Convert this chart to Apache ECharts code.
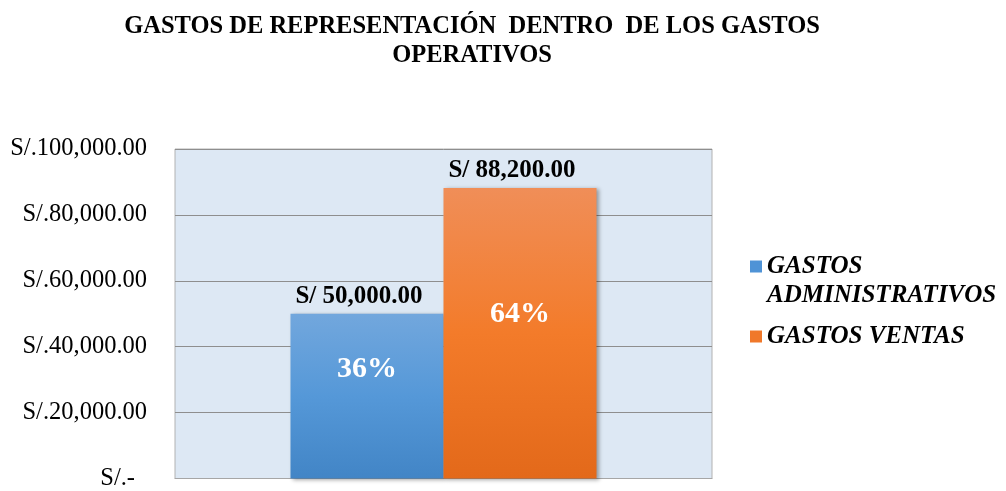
<!DOCTYPE html>
<html>
<head>
<meta charset="utf-8">
<script src="https://cdn.jsdelivr.net/npm/echarts@6/dist/echarts.min.js"></script>
<style>
  html, body { margin: 0; padding: 0; background: #fff; }
  #chart { width: 1006px; height: 491px; }
</style>
</head>
<body>
<div id="chart"></div>
<script>
var titulo = "GASTOS DE REPRESENTACIÓN  DENTRO  DE LOS GASTOS\nOPERATIVOS";
var categorias = [""];
var nombres = ["GASTOS ADMINISTRATIVOS", "GASTOS VENTAS"];
var montos = [50000, 88200];
var yTicks = [0, 20000, 40000, 60000, 80000, 100000];

var fuente = "Liberation Serif";
var total = montos[0] + montos[1];

// gradientes de cada barra (arriba -> abajo)
var colores = [
  new echarts.graphic.LinearGradient(0, 0, 0, 1, [
    { offset: 0, color: "#72a7dd" },
    { offset: 0.5, color: "#5598d8" },
    { offset: 1, color: "#4285c6" },
  ]),
  new echarts.graphic.LinearGradient(0, 0, 0, 1, [
    { offset: 0, color: "#f08e58" },
    { offset: 0.5, color: "#f37b2a" },
    { offset: 1, color: "#e3691a" },
  ]),
];
var legendColors = ["#4f93d6", "#f0782a"];
var pctOffsets = [[0, -27], [0, -19]];

function soles(v) {
  return v.toLocaleString("en-US", { minimumFractionDigits: 2, maximumFractionDigits: 2 });
}

var series = [];
montos.forEach(function (m, i) {
  // barra principal con el porcentaje adentro
  series.push({
    name: nombres[i],
    type: "bar",
    xAxisIndex: 0,
    barWidth: 153,
    barGap: "0%",
    data: [m],
    itemStyle: {
      color: colores[i],
      shadowBlur: 4,
      shadowOffsetX: 2,
      shadowOffsetY: 1,
      shadowColor: "rgba(0,0,0,0.35)",
    },
    label: {
      show: true,
      position: "inside",
      offset: pctOffsets[i],
      color: "#fff",
      fontFamily: fuente,
      fontWeight: "bold",
      fontSize: 30,
      formatter: function (p) {
        return Math.round((p.value / total) * 100) + "%";
      },
    },
    silent: true,
  });
});
montos.forEach(function (m, i) {
  // capa transparente para la etiqueta del monto
  series.push({
    name: "_" + nombres[i],
    type: "bar",
    xAxisIndex: 1,
    barWidth: 153,
    barGap: "0%",
    data: [m],
    itemStyle: { color: "transparent" },
    label: {
      show: true,
      position: "top",
      distance: 5,
      offset: [-8, 0],
      color: "#000",
      fontFamily: fuente,
      fontWeight: "bold",
      fontSize: 25,
      formatter: function (p) {
        return "S/ " + soles(p.value);
      },
    },
    silent: true,
  });
});

var legendText = {
  fontFamily: fuente,
  fontWeight: "bold",
  fontStyle: "italic",
  fontSize: 25,
  lineHeight: 29,
  color: "#000",
};

var option = {
  animation: false,
  title: {
    text: titulo,
    left: 467,
    top: 7,
    textAlign: "center",
    textStyle: {
      fontFamily: fuente,
      fontWeight: "bold",
      fontSize: 24.5,
      lineHeight: 29,
      color: "#000",
    },
  },
  legend: [
    {
      // linea vacia arriba para que el cuadrito quede a la altura de "GASTOS"
      left: 745,
      top: 218,
      itemWidth: 12,
      itemHeight: 12,
      icon: "rect",
      selectedMode: false,
      data: [{ name: nombres[0], itemStyle: { color: legendColors[0] } }],
      formatter: function () {
        return "\nGASTOS\nADMINISTRATIVOS";
      },
      textStyle: legendText,
    },
    {
      left: 745,
      top: 317,
      itemWidth: 12,
      itemHeight: 12,
      icon: "rect",
      selectedMode: false,
      data: [{ name: nombres[1], itemStyle: { color: legendColors[1] } }],
      textStyle: legendText,
    },
  ],
  grid: {
    left: 175,
    right: 294,
    top: 149,
    bottom: 11,
    show: true,
    backgroundColor: "#dde8f4",
    borderColor: "#b2b2b2",
    borderWidth: 1,
  },
  xAxis: [
    {
      type: "category",
      data: categorias,
      axisLine: { show: true, lineStyle: { color: "#a6a6a6" } },
      axisTick: { show: false },
      axisLabel: { show: false },
    },
    {
      type: "category",
      data: categorias,
      show: false,
    },
  ],
  yAxis: {
    type: "value",
    min: yTicks[0],
    max: yTicks[yTicks.length - 1],
    interval: yTicks[1] - yTicks[0],
    axisLine: { show: false },
    axisTick: { show: false },
    splitLine: { lineStyle: { color: "#8e8e8e", width: 1 } },
    axisLabel: {
      margin: 28,
      color: "#000",
      fontFamily: fuente,
      fontSize: 24.5,
      formatter: function (v) {
        if (v === 0) return "{z|S/.-}";
        return "S/." + soles(v);
      },
      rich: {
        z: { fontFamily: fuente, fontSize: 24.5, color: "#000", padding: [0, 12, 0, 0] },
      },
    },
  },
  series: series,
};

var myChart = echarts.init(document.getElementById("chart"));
myChart.setOption(option);
window.addEventListener("resize", function () {
  myChart.resize();
});
</script>
</body>
</html>
